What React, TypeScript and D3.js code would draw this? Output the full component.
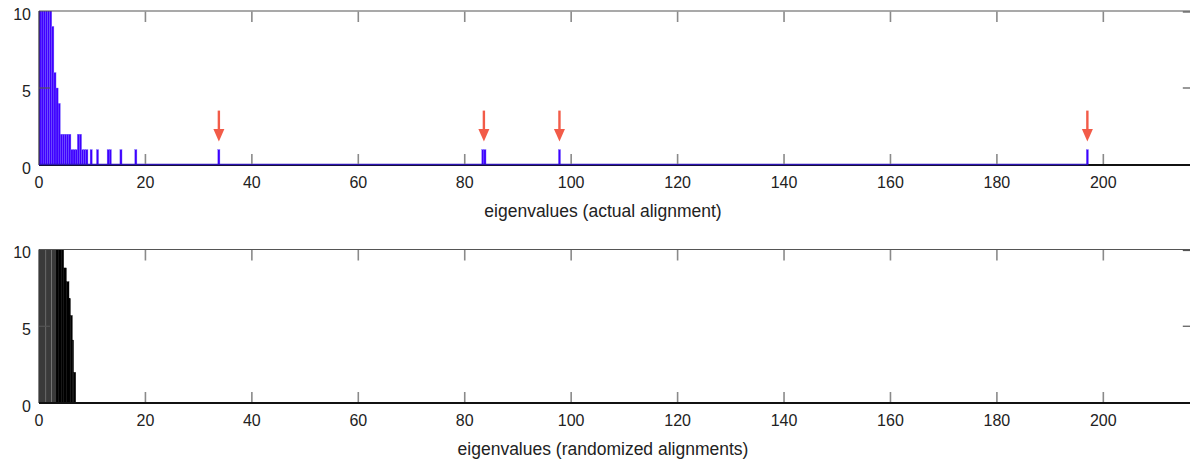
import React from "react";
import * as d3 from "d3";

// Histogram of eigenvalues for the actual alignment (bin width 0.4, nonzero bins only)
const actualBinStarts = [
  0.0, 0.4, 0.8, 1.2, 1.6, 2.0, 2.4, 2.8, 3.2, 3.6, 4.0, 4.4, 4.8, 5.2, 5.6,
  6.0, 6.4, 6.8, 7.2, 7.6, 8.0, 8.4, 8.8, 9.6, 10.8, 12.8, 13.2, 15.2, 18.0,
  33.6, 83.2, 83.6, 97.6, 196.8,
];
const actualCounts = [
  40, 34, 28, 22, 18, 14, 9, 6, 5, 4, 2, 2, 2, 2, 2,
  1, 1, 1, 2, 2, 1, 1, 1, 1, 1, 1, 1, 1, 1,
  1, 1, 1, 1, 1,
];
const actualBinWidth = 0.4;
const actualRangeEnd = 197.2;

// Histogram of eigenvalues for the randomized alignments
const randEdges = [0, 1.3, 2.4, 3.2, 3.7, 4.2, 4.64, 5.14, 5.64, 5.9, 6.26, 6.5, 6.9];
const randCounts = [62, 58, 47, 24, 18, 13, 8.8, 7.9, 6.8, 5.7, 4.1, 2.0];

const xTicks = [0, 20, 40, 60, 80, 100, 120, 140, 160, 180, 200];
const yTicks = [0, 5, 10];
const xDomain = [0, 217];
const yDomain = [0, 10];

const titles = ["eigenvalues (actual alignment)", "eigenvalues (randomized alignments)"];

const W = 1190;
const H = 463;
const left = 39;
const right = 1193.8;
const FONT = "'Liberation Sans', Arial, Helvetica, sans-serif";

const x = d3.scaleLinear().domain(xDomain).range([left, right]);

type Bar = { x0: number; x1: number; count: number };

// merge touching bins into single runs (one arrow per isolated group)
function groupRuns(bars: Bar[]): Bar[] {
  const out: Bar[] = [];
  bars.forEach((b) => {
    const last = out[out.length - 1];
    if (last && Math.abs(last.x1 - b.x0) < 1e-6) {
      last.x1 = b.x1;
      last.count = Math.max(last.count, b.count);
    } else out.push({ ...b });
  });
  return out;
}

function Panel({
  top,
  bottom,
  bars,
  fill,
  edge,
  baseline,
  title,
  arrows,
  id,
  shade,
}: {
  top: number;
  bottom: number;
  bars: Bar[];
  fill: string;
  edge: string;
  baseline?: [number, number];
  title: string;
  arrows?: Bar[];
  id: string;
  shade?: (b: Bar) => { fill: string; stroke: string };
}) {
  const y = d3.scaleLinear().domain(yDomain).range([bottom, top]);
  const tickLen = 11;
  const tickColor = "#8a8a8a";
  return (
    <g>
      <defs>
        <clipPath id={id}>
          <rect x={left} y={top} width={right - left} height={bottom - top} />
        </clipPath>
      </defs>
      <g clipPath={`url(#${id})`}>
        {bars.map((b, i) => {
          const s = shade ? shade(b) : { fill, stroke: edge };
          return (
            <rect
              key={i}
              x={x(b.x0)}
              y={y(b.count)}
              width={x(b.x1) - x(b.x0)}
              height={bottom - y(b.count)}
              fill={s.fill}
              stroke={s.stroke}
              strokeWidth={0.35}
            />
          );
        })}
      </g>
      {/* frame */}
      <line x1={left} x2={right} y1={top} y2={top} stroke="#555" strokeWidth={1.2} />
      <line x1={left} x2={left} y1={top} y2={bottom} stroke="#333" strokeWidth={1.2} />
      <line x1={right} x2={right} y1={top} y2={bottom} stroke="#555" strokeWidth={1.2} />
      <line x1={left} x2={right} y1={bottom} y2={bottom} stroke="#111" strokeWidth={2} />
      {baseline && (
        <line
          x1={x(baseline[0])}
          x2={x(baseline[1])}
          y1={bottom - 0.5}
          y2={bottom - 0.5}
          stroke="#2c14b4"
          strokeWidth={1.4}
        />
      )}
      {/* ticks */}
      {xTicks.map((t) => (
        <g key={t}>
          {t > 0 && (
            <>
              <line x1={x(t)} x2={x(t)} y1={bottom - 1} y2={bottom - tickLen} stroke={tickColor} strokeWidth={1.6} />
              <line x1={x(t)} x2={x(t)} y1={top + 0.5} y2={top + tickLen} stroke={tickColor} strokeWidth={1.6} />
            </>
          )}
          <text
            x={x(t)}
            y={bottom + 23}
            textAnchor="middle"
            fontFamily={FONT}
            fontSize={16}
            fill="#222"
          >
            {t}
          </text>
        </g>
      ))}
      {yTicks.map((t) => (
        <g key={t}>
          {t > 0 && t < 10 && (
            <>
              <line x1={left} x2={left + tickLen} y1={y(t)} y2={y(t)} stroke="#555" strokeWidth={1.2} />
              <line x1={right} x2={right - tickLen} y1={y(t)} y2={y(t)} stroke="#555" strokeWidth={1.2} />
            </>
          )}
          {t === 10 && (
            <line x1={right} x2={right - tickLen} y1={y(t) + 1} y2={y(t) + 1} stroke="#555" strokeWidth={1.2} />
          )}
          <text
            x={31}
            y={y(t) + 8.5}
            textAnchor="end"
            fontFamily={FONT}
            fontSize={16}
            fill="#222"
          >
            {t}
          </text>
        </g>
      ))}
      <text
        x={603}
        y={bottom + 51.5}
        textAnchor="middle"
        fontFamily={FONT}
        fontSize={17.5}
        fill="#222"
      >
        {title}
      </text>
      {/* arrows pointing at the isolated large eigenvalues */}
      {arrows &&
        arrows.map((b, i) => {
          const cx = x((b.x0 + b.x1) / 2);
          const tip = y(b.count) - 8;
          const headLen = 12.5;
          const half = 5.5;
          return (
            <g key={i} fill="#f25b48" stroke="none">
              <rect x={cx - 1.2} y={tip - 31} width={2.4} height={31 - headLen + 1} />
              <path d={`M${cx - half},${tip - headLen} L${cx + half},${tip - headLen} L${cx},${tip} Z`} />
            </g>
          );
        })}
    </g>
  );
}

export default function App() {
  const actualBars: Bar[] = actualBinStarts.map((s, i) => ({
    x0: s,
    x1: s + actualBinWidth,
    count: actualCounts[i],
  }));
  const randBars: Bar[] = randCounts.map((c, i) => ({
    x0: randEdges[i],
    x1: randEdges[i + 1],
    count: c,
  }));
  const isolated = groupRuns(actualBars.filter((b) => b.x0 > 20));

  return (
    <svg width={W} height={H} style={{ display: "block", position: "absolute", left: 0, top: 0 }}>
      <rect width={W} height={H} fill="#fff" />
      <Panel
        id="clipA"
        top={11}
        bottom={165}
        bars={actualBars}
        fill="#3f00ff"
        edge="#7766ff"
        baseline={[0, actualRangeEnd]}
        title={titles[0]}
        arrows={isolated}
      />
      <Panel
        id="clipB"
        top={249.5}
        bottom={403}
        bars={randBars}
        fill="#000"
        edge="#000"
        title={titles[1]}
        shade={(b) =>
          b.count > 40 ? { fill: "#3a3a3a", stroke: "#8a8a8a" } : { fill: "#000", stroke: "#000" }
        }
      />
    </svg>
  );
}
